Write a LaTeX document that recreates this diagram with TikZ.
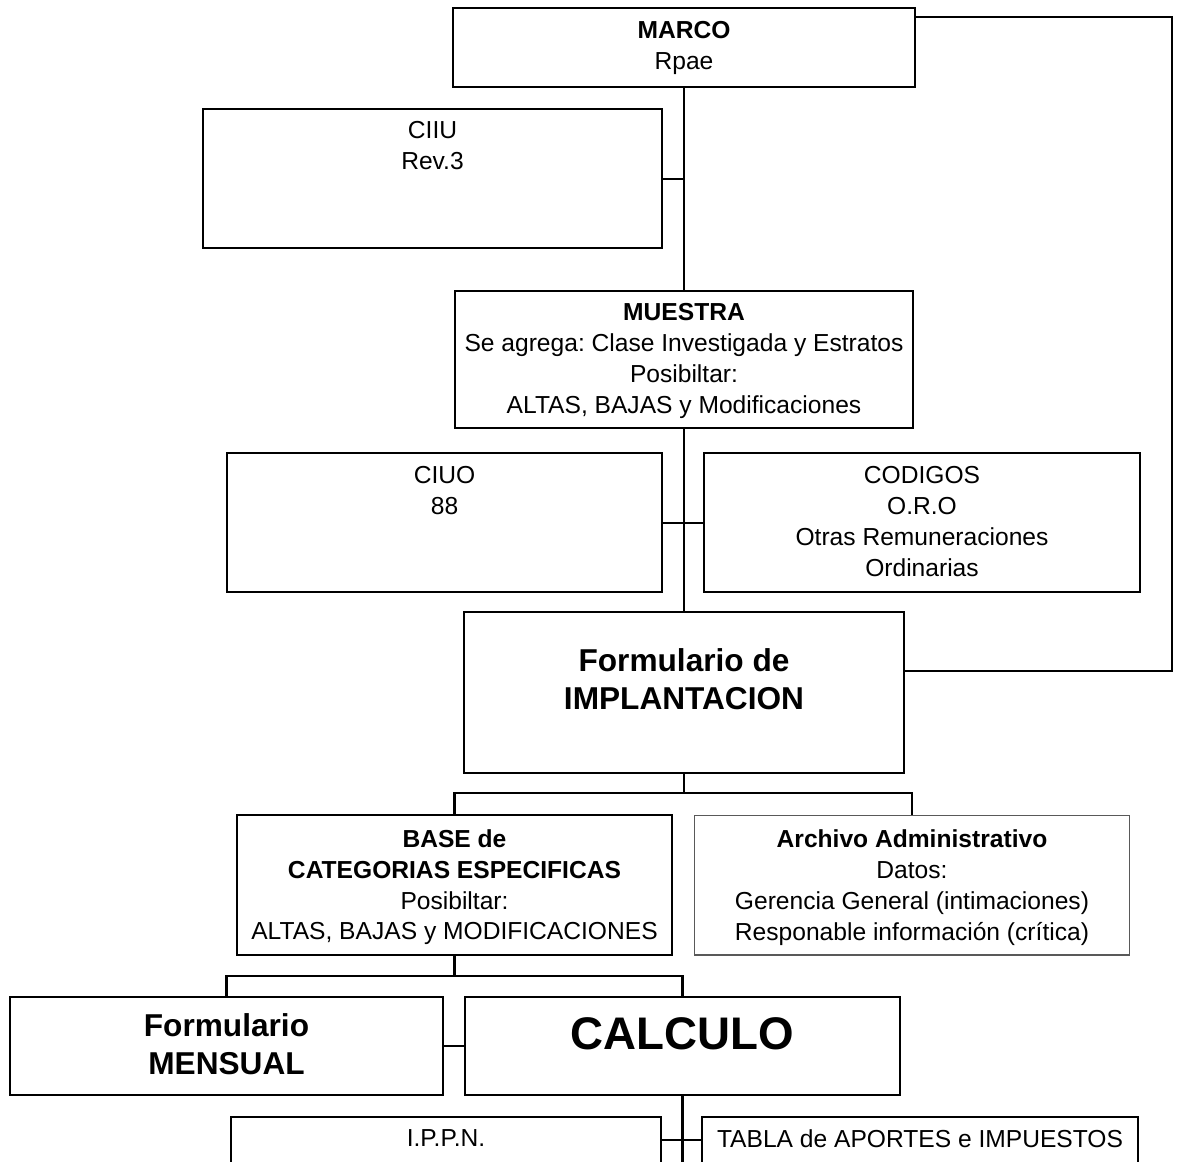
\documentclass[tikz,border=0pt]{standalone}
\usepackage{fontspec}
\setmainfont{Liberation Sans}
\usetikzlibrary{positioning}
\frenchspacing

\begin{document}
\begin{tikzpicture}[x=0.02cm,y=-0.02cm,
  box/.style={draw, line width=1.15pt, inner sep=0pt},
  thinbox/.style={draw=black!65, line width=0.6pt, inner sep=0pt},
  txt/.style={anchor=north, align=center, inner sep=0pt, font=\fontsize{14}{17.6}\selectfont},
  bigtxt/.style={anchor=north, align=center, inner sep=0pt, font=\fontsize{18}{22}\selectfont\bfseries},
  link/.style={line width=1.15pt}]
\useasboundingbox (0,0) rectangle (1177,1161);
\clip (0,0) rectangle (1177,1161);

% boxes
\node[box, minimum width=9.26cm, minimum height=1.58cm] (marco) at (684,47.5) {};
\node[box, minimum width=9.18cm, minimum height=2.78cm] (ciiu) at (432.5,178.5) {};
\node[box, minimum width=9.18cm, minimum height=2.74cm] (muestra) at (684,359.5) {};
\node[box, minimum width=8.70cm, minimum height=2.78cm] (ciuo) at (444.5,522.5) {};
\node[box, minimum width=8.72cm, minimum height=2.78cm] (codigos) at (922,522.5) {};
\node[box, minimum width=8.80cm, minimum height=3.22cm] (impl) at (684,692.5) {};
\node[box, minimum width=8.70cm, minimum height=2.80cm] (base) at (454.5,885) {};
\node[thinbox, minimum width=8.72cm, minimum height=2.80cm] (archivo) at (912,885) {};
\node[box, minimum width=8.66cm, minimum height=1.96cm] (mensual) at (226.5,1046) {};
\node[box, minimum width=8.70cm, minimum height=1.96cm] (calculo) at (682.5,1046) {};
\node[box, minimum width=8.62cm, minimum height=2.78cm] (ippn) at (446,1186.5) {};
\node[box, minimum width=8.72cm, minimum height=2.78cm] (tabla) at (920,1186.5) {};

% texts
\node[txt] (marcotxt) at ([yshift=-0.28cm]marco.north) {\textbf{MARCO}\\Rpae};
\node[txt] (ciiutxt) at ([yshift=-0.26cm]ciiu.north) {CIIU\\Rev.3};
\node[txt] (muestratxt) at ([yshift=-0.26cm]muestra.north) {\textbf{MUESTRA}\\Se agrega: Clase Investigada y Estratos\\Posibiltar:\\ALTAS, BAJAS y Modificaciones};
\node[txt] (ciuotxt) at ([yshift=-0.28cm]ciuo.north) {CIUO\\88};
\node[txt] (codigostxt) at ([yshift=-0.28cm]codigos.north) {CODIGOS\\O.R.O\\Otras Remuneraciones\\Ordinarias};
\node[bigtxt] (impltxt) at ([yshift=-0.74cm]impl.north) {Formulario de\\IMPLANTACION};
\node[txt] (basetxt) at ([yshift=-0.30cm]base.north) {\textbf{BASE de}\\\textbf{CATEGORIAS ESPECIFICAS}\\Posibiltar:\\ALTAS, BAJAS y MODIFICACIONES};
\node[txt] (archivotxt) at ([yshift=-0.30cm]archivo.north) {\textbf{Archivo Administrativo}\\Datos:\\Gerencia General (intimaciones)\\Responable información (crítica)};
\node[bigtxt] (mensualtxt) at ([yshift=-0.34cm]mensual.north) {Formulario\\MENSUAL};
\node[anchor=north, inner sep=0pt, font=\fontsize{26}{30}\selectfont\bfseries] (calculotxt) at ([yshift=-0.42cm]calculo.north) {CALCULO};
\node[txt] (ippntxt) at ([yshift=-0.26cm]ippn.north) {I.P.P.N.};
\node[txt] (tablatxt) at ([yshift=-0.26cm]tabla.north) {TABLA de APORTES e IMPUESTOS};

% connectors
\coordinate (rtop) at (1172,17);
\coordinate (rbot) at (1172,671);
\coordinate (split1) at (684,793);
\coordinate (split2) at (454.5,976);
\coordinate (cut) at (682.5,1200);
\draw[link] (marco.east |- rtop) -- (rtop) -- (rbot) -- (impl.east |- rbot);
\draw[link] (marco) -- (muestra);
\draw[link] (ciiu.east) -- (ciiu.east -| marco.south);
\draw[link] (muestra) -- (impl);
\draw[link] (ciuo.east) -- (codigos.west);
\draw[link] (impl.south) -- (split1);
\draw[link] (base.north) |- (split1) -| (archivo.north);
\draw[link] (base.south) -- (split2);
\draw[link] (mensual.north) |- (split2) -| (calculo.north);
\draw[link] (mensual.east) -- (calculo.west);
\draw[link] (calculo.south) -- (cut);
\draw[link] ([yshift=-0.48cm]ippn.north east) -- ([yshift=-0.48cm]tabla.north west);
\end{tikzpicture}
\end{document}
